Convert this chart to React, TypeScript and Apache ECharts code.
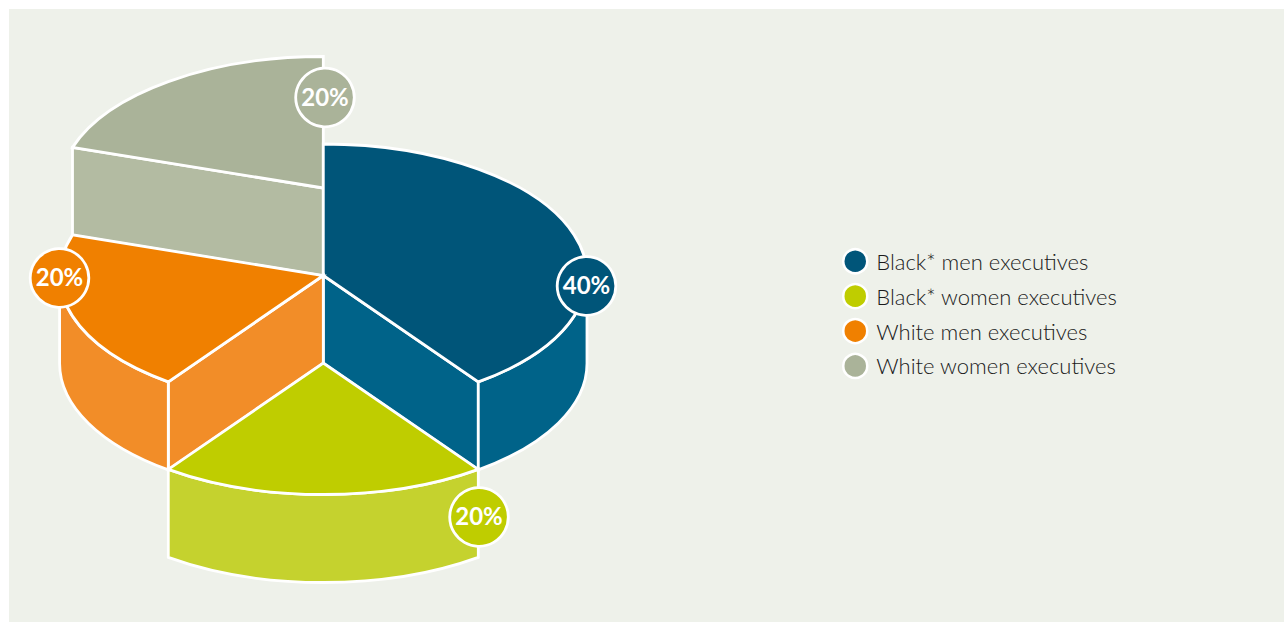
import React, { useEffect, useRef } from "react";
import * as echarts from "echarts";

// Executive representation shares, in percent.
const categories = [
  "Black* men executives",
  "Black* women executives",
  "White men executives",
  "White women executives",
];
const shares = [40, 20, 20, 20];

// Palette: top faces and the lighter extruded walls.
const topColors = ["#005579", "#BFCD00", "#F08000", "#AAB399"];
const wallColors = ["#006389", "#C5D22E", "#F28D28", "#B3BBA2"];

// Pie geometry in pixels.
const CX = 323.3;
const CY = 275.5;
const RX = 263.7;
const RY = 131.5;
const DEPTH = 88;
const sliceLift = [0, 87.5, 0, -87.5];
const badgeCentres = [
  [586.5, 286],
  [479, 517],
  [59.5, 278],
  [325, 97.5],
];
const BADGE_R = 29.3;
const STROKE = 2.8;

const toRad = (deg: number) => (deg * Math.PI) / 180;

// Angles run clockwise from twelve o'clock.
const ellipsePoint = (deg: number, cy: number) => [
  CX + RX * Math.sin(toRad(deg)),
  cy - RY * Math.cos(toRad(deg)),
];

const arcTo = (deg: number, cy: number, clockwise: boolean, large = false) => {
  const [x, y] = ellipsePoint(deg, cy);
  return `A ${RX} ${RY} 0 ${large ? 1 : 0} ${clockwise ? 1 : 0} ${x} ${y}`;
};

const seriesPath = (d: string, fill: string, z2: number) => ({
  type: "path",
  z2,
  shape: { pathData: d },
  style: { fill, stroke: "#fff", lineWidth: STROKE, lineJoin: "miter" },
});

function renderSlice(index: number, api: any) {
  const share = api.value(0);
  const before = shares.slice(0, index).reduce((a, b) => a + b, 0);
  const start = (before / 100) * 360;
  const end = ((before + share) / 100) * 360;
  const cy = CY + sliceLift[index];
  const children: any[] = [];
  const eps = 1e-6;

  // Cut walls that face the viewer.
  const cutWall = (deg: number) => {
    const [x, y] = ellipsePoint(deg, cy);
    return `M ${CX} ${cy} L ${x} ${y} L ${x} ${y + DEPTH} L ${CX} ${cy + DEPTH} Z`;
  };
  if (Math.sin(toRad(start)) < -eps) children.push(seriesPath(cutWall(start), wallColors[index], 1));
  if (Math.sin(toRad(end)) > eps) children.push(seriesPath(cutWall(end), wallColors[index], 1));

  // Rim: the part of the slice's outer edge on the near half of the ellipse.
  const rimFrom = Math.max(start, 90);
  const rimTo = Math.min(end, 270);
  if (rimTo > rimFrom) {
    const [x0, y0] = ellipsePoint(rimFrom, cy);
    const [x1, y1] = ellipsePoint(rimTo, cy);
    const rim =
      `M ${x0} ${y0} ${arcTo(rimTo, cy, true)} L ${x1} ${y1 + DEPTH} ` +
      `${arcTo(rimFrom, cy + DEPTH, false)} Z`;
    children.push(seriesPath(rim, wallColors[index], 1));
  }

  // Top face.
  const [sx, sy] = ellipsePoint(start, cy);
  const top = `M ${CX} ${cy} L ${sx} ${sy} ${arcTo(end, cy, true, end - start > 180)} Z`;
  children.push(seriesPath(top, topColors[index], 2));

  // Value badge.
  const [bx, by] = badgeCentres[index];
  children.push({
    type: "circle",
    z2: 3,
    shape: { cx: bx, cy: by, r: BADGE_R },
    style: { fill: topColors[index], stroke: "#fff", lineWidth: STROKE },
  });
  children.push({
    type: "text",
    z2: 4,
    style: {
      x: bx,
      y: by - 1.5,
      text: `${share}%`,
      fill: "#fff",
      font: "700 24px Lato",
      textAlign: "center",
      textVerticalAlign: "middle",
    },
  });
  return { type: "group", children };
}

export default function App() {
  const ref = useRef<HTMLDivElement>(null);

  useEffect(() => {
    const chart = echarts.init(ref.current!, undefined, { renderer: "svg" });
    // Far-to-near order so nearer slices paint over the ones behind them.
    const drawOrder = [3, 0, 2, 1];
    chart.setOption({
      animation: false,
      backgroundColor: "#fff",
      graphic: [
        {
          type: "rect",
          z: -10,
          silent: true,
          shape: { x: 9, y: 9, width: 1275, height: 613 },
          style: { fill: "#EEF1EA" },
        },
      ],
      legend: {
        show: true,
        orient: "vertical",
        left: 842,
        top: 248,
        padding: 0,
        icon: "circle",
        itemWidth: 24,
        itemHeight: 24,
        itemGap: 8.4,
        selectedMode: false,
        data: categories,
        textStyle: {
          fontFamily: "Lato",
          fontWeight: 300,
          fontSize: 22,
          lineHeight: 24,
          color: "#1A1A1A",
          padding: [0, 0, 0, 4],
        },
        itemStyle: { borderColor: "#fff", borderWidth: 2.5 },
      },
      series: drawOrder.map((i) => ({
        type: "custom",
        name: categories[i],
        coordinateSystem: "none",
        silent: true,
        z: 2 + drawOrder.indexOf(i),
        itemStyle: { color: topColors[i] },
        data: [[shares[i]]],
        renderItem: (_params: any, api: any) => renderSlice(i, api),
      })),
    });
    return () => chart.dispose();
  }, []);

  return (
    <div
      ref={ref}
      style={{ position: "fixed", left: 0, top: 0, width: 1284, height: 622 }}
    />
  );
}
